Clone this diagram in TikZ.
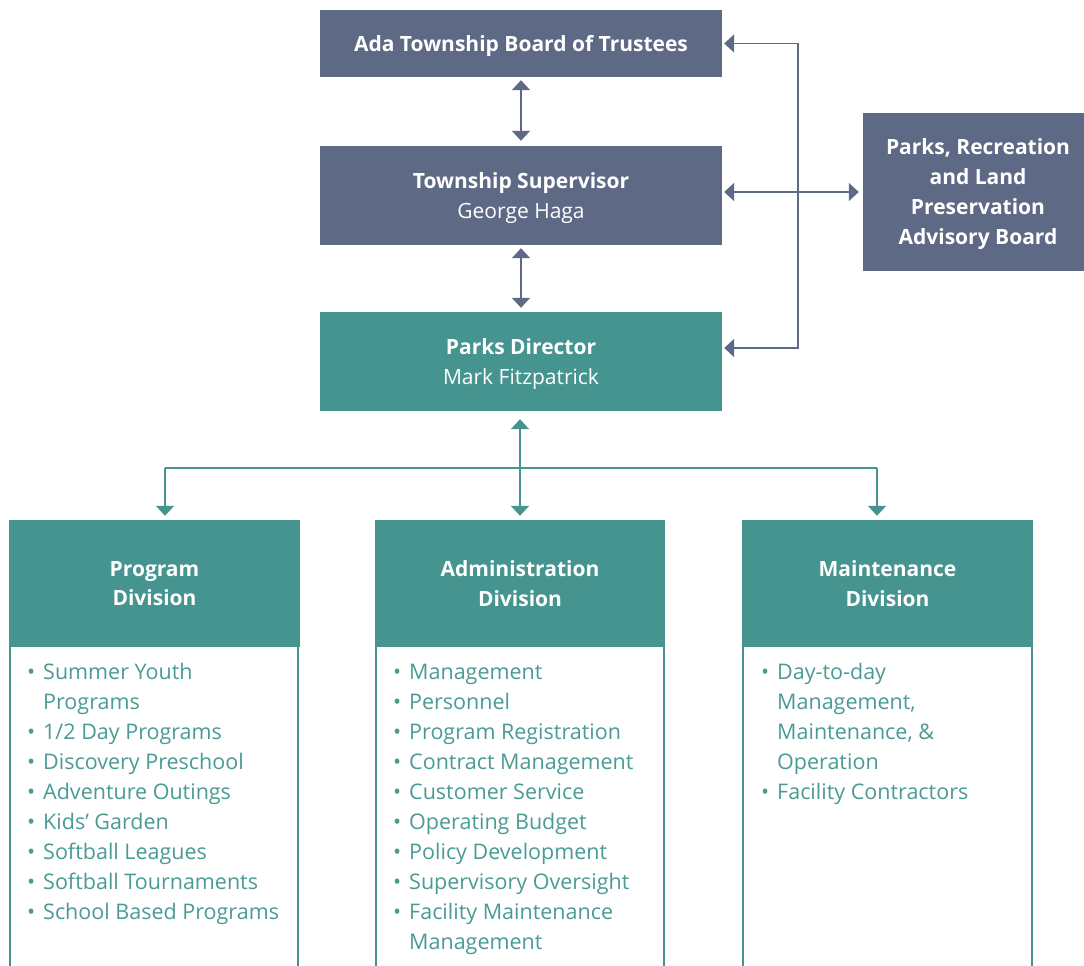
\documentclass[tikz,border=0pt]{standalone}
\usepackage{fontspec}
\setmainfont{Open Sans}
\usetikzlibrary{arrows.meta}
\definecolor{myslate}{HTML}{5E6A85}
\definecolor{myteal}{HTML}{45948F}
\definecolor{myteal2}{HTML}{4A9B95}
\newcommand{\bl}{\makebox[0pt][r]{\textbullet\hspace{8pt}}}
\begin{document}
\begin{tikzpicture}[x=1pt,y=-1pt,
  >={Triangle[width=18pt,length=10pt]},
  box/.style={rectangle, inner sep=0pt, align=center, text=white, text depth=-4pt, font=\fontsize{21}{30}\selectfont},
  slbox/.style={box, fill=myslate, minimum width=402pt},
  tlbox/.style={box, fill=myteal, minimum width=402pt},
  dhead/.style={box, text depth=-7pt, fill=myteal, minimum width=290pt, minimum height=127pt, font=\fontsize{21}{29.5}\selectfont\bfseries},
  dbody/.style={rectangle, draw=myteal, line width=2pt, fill=white, minimum width=288pt, minimum height=360pt, anchor=north},
  item/.style={anchor=base west, inner sep=0pt, text=myteal2, font=\fontsize{21.5}{24}\selectfont},
  sl/.style={draw=myslate, line width=1.8pt},
  tl/.style={draw=myteal, line width=1.8pt}]
\useasboundingbox (0,0) rectangle (1084,966);

% top boxes
\node[slbox, text depth=-2pt, minimum height=67pt] (board) at (521,43.5) {{\bfseries Ada Township Board of Trustees}};
\node[slbox, minimum height=99pt] (sup) at (521,195.5) {{\bfseries Township Supervisor}\\George Haga};
\node[tlbox, minimum height=99pt] (dir) at (521,361.5) {{\bfseries Parks Director}\\Mark Fitzpatrick};
\node[box, fill=myslate, minimum width=230pt, minimum height=158pt] (adv) at (978,192)
  {\bfseries Parks, Recreation\\\bfseries and Land\\\bfseries Preservation\\\bfseries Advisory Board};

% division bodies
\node[dbody] (progbody) at (154,645) {};
\node[dbody] (admbody) at (520,645) {};
\node[dbody, minimum width=289pt] (mntbody) at (887.5,645) {};

% division headers
\node[dhead, minimum width=291pt] (prog) at (154.5,583.5) {Program\\Division};
\node[dhead] (adm) at (520,583.5) {Administration\\Division};
\node[dhead, minimum width=291pt] (mnt) at (887.5,583.5) {Maintenance\\Division};

% lists
\foreach \t [count=\i from 0] in {{\bl Summer Youth},{Programs},{\bl 1/2 Day Programs},{\bl Discovery Preschool},{\bl Adventure Outings},{\bl Kids’ Garden},{\bl Softball Leagues},{\bl Softball Tournaments},{\bl School Based Programs}}
  \node[item] (pl\i) at (43,679+30*\i) {\t};
\foreach \t [count=\i from 0] in {{\bl Management},{\bl Personnel},{\bl Program Registration},{\bl Contract Management},{\bl Customer Service},{\bl Operating Budget},{\bl Policy Development},{\bl Supervisory Oversight},{\bl Facility Maintenance},{Management}}
  \node[item] (al\i) at (409,679+30*\i) {\t};
\foreach \t [count=\i from 0] in {{\bl Day-to-day},{Management,},{Maintenance, \&},{Operation},{\bl Facility Contractors}}
  \node[item] (ml\i) at (777,679+30*\i) {\t};

% slate connectors
\draw[sl,<->,shorten <=3pt,shorten >=5pt] (board) -- (sup);
\draw[sl,<->,shorten <=3pt,shorten >=4pt] (sup) -- (dir);
\coordinate (rt) at (798,43.5);
\coordinate (rb) at (798,348);
\draw[sl,<->,shorten <=2pt,shorten >=2pt] (board.east) -- (rt) -- (rb) -- (rb -| dir.east);
\draw[sl,<->,shorten <=2pt,shorten >=4pt] (sup.east |- adv.west) -- (adv.west);

% teal connectors
\draw[tl,<->,shorten <=8pt,shorten >=4pt] (adm.north |- dir.south) -- (adm.north);
\coordinate (jl) at (165,468);
\coordinate (jr) at (877,468);
\draw[tl] (jl) -- (jr);
\draw[tl,->,shorten >=4pt] (jl) -- (jl |- prog.north);
\draw[tl,->,shorten >=4pt] (jr) -- (jr |- mnt.north);
\end{tikzpicture}
\end{document}
